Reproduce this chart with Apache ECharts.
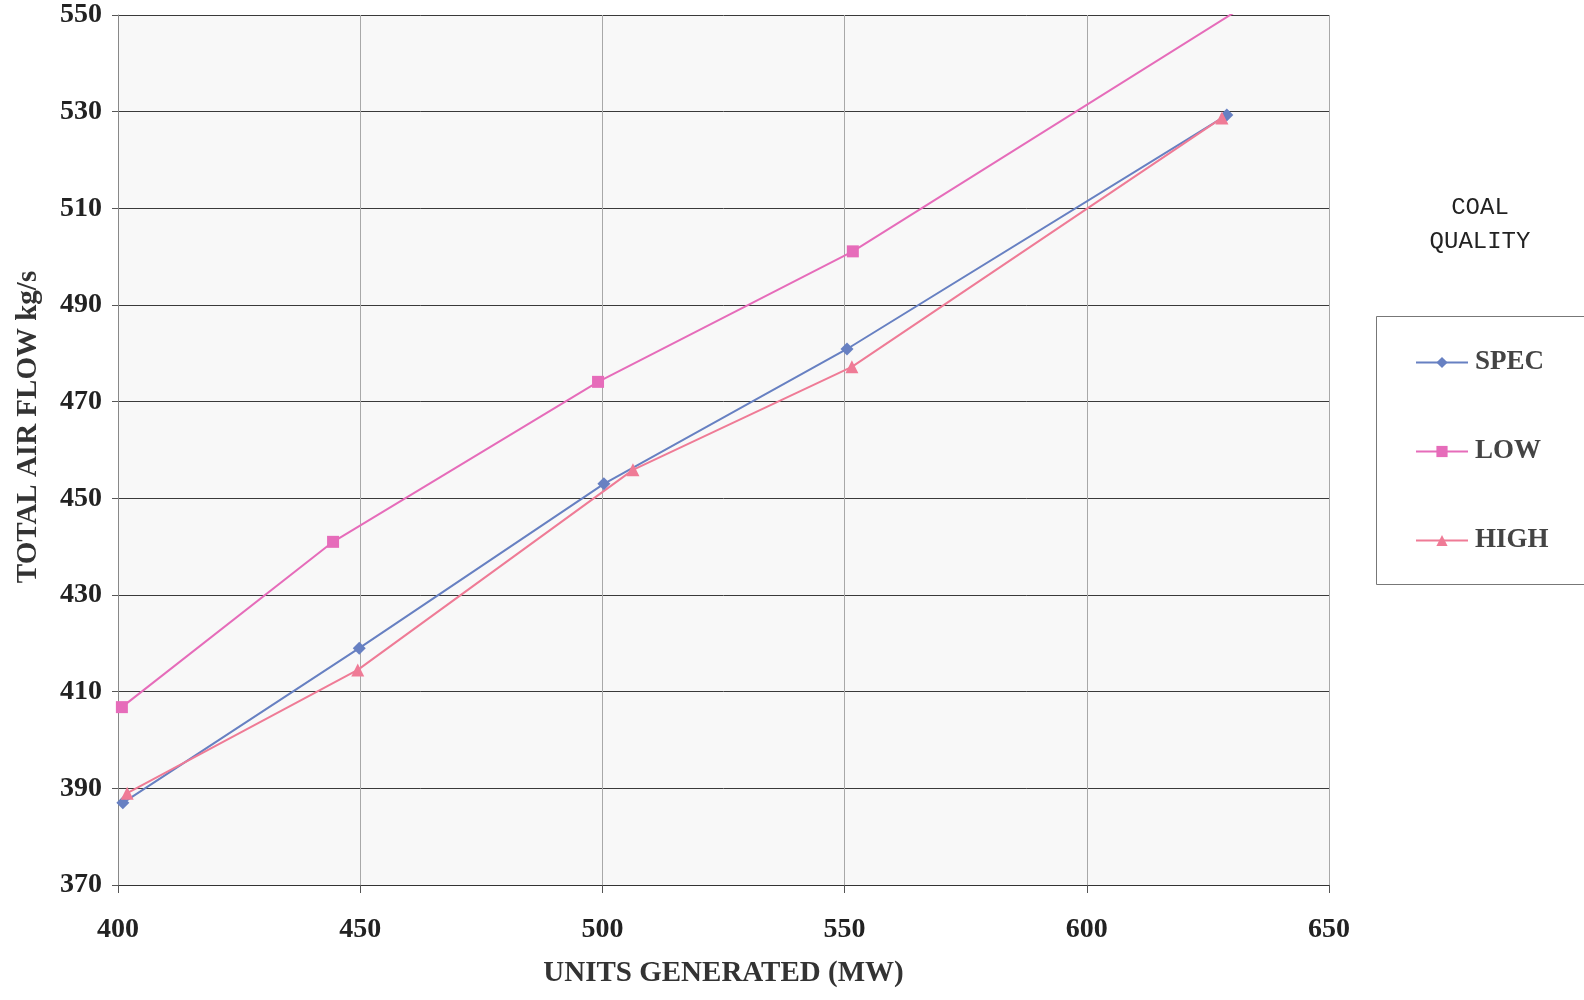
<!DOCTYPE html>
<html>
<head>
<meta charset="utf-8">
<script src="https://cdn.jsdelivr.net/npm/echarts@6/dist/echarts.min.js"></script>
<style>
  html, body { margin: 0; padding: 0; background: #ffffff; }
  #chart { width: 1584px; height: 1000px; }
</style>
</head>
<body>
<div id="chart"></div>
<script>
// Total air flow against unit output, for three coal qualities
const seriesNames = ['SPEC', 'LOW', 'HIGH'];

const specMW   = [401, 449.8, 500.3, 550.5, 628.9];
const specFlow = [387.0, 419.0, 453.0, 480.9, 529.3];

const lowMW    = [400.8, 444.4, 499.1, 551.7, 631.5];
const lowFlow  = [406.8, 441.0, 474.1, 501.1, 551.2];

const highMW   = [401.9, 449.5, 506.3, 551.5, 627.9];
const highFlow = [389.0, 414.5, 455.9, 477.2, 528.7];

const xTicks = [400, 450, 500, 550, 600, 650];
const yTicks = [370, 390, 410, 430, 450, 470, 490, 510, 530, 550];

const colors = ['#6780c2', '#e66cba', '#ef7b96'];
const symbols = ['diamond', 'rect', 'triangle'];

function pairs(xs, ys) { return xs.map((x, i) => [x, ys[i]]); }
const seriesData = [pairs(specMW, specFlow), pairs(lowMW, lowFlow), pairs(highMW, highFlow)];

const serif = '"Liberation Serif", "Times New Roman", serif';

const chart = echarts.init(document.getElementById('chart'), null, { renderer: 'canvas' });

chart.setOption({
  backgroundColor: '#ffffff',
  animation: false,
  grid: {
    left: 118, right: 255, top: 15, bottom: 115,
    show: true, backgroundColor: '#f8f8f8', borderWidth: 0
  },
  xAxis: {
    type: 'value',
    min: xTicks[0], max: xTicks[xTicks.length - 1], interval: 50,
    name: 'UNITS GENERATED (MW)',
    nameLocation: 'middle', nameGap: 74,
    nameTextStyle: { fontFamily: serif, fontWeight: 'bold', fontSize: 29, color: '#333' },
    axisLine: { show: true, lineStyle: { color: '#333', width: 1.2 } },
    axisTick: { show: true, length: 8, lineStyle: { color: '#555' } },
    axisLabel: { fontFamily: serif, fontWeight: 'bold', fontSize: 28, color: '#222', margin: 31 },
    splitLine: { show: true, lineStyle: { color: '#a8a8a8', width: 1 } }
  },
  yAxis: {
    type: 'value',
    min: yTicks[0], max: yTicks[yTicks.length - 1], interval: 20,
    name: 'TOTAL AIR FLOW kg/s',
    nameLocation: 'middle', nameGap: 75, nameRotate: 90,
    nameTextStyle: { fontFamily: serif, fontWeight: 'bold', fontSize: 29, color: '#333', padding: [0, 0, 0, 46] },
    axisLine: { show: true, lineStyle: { color: '#888', width: 1 } },
    axisTick: { show: true, length: 6, lineStyle: { color: '#555' } },
    axisLabel: { fontFamily: serif, fontWeight: 'bold', fontSize: 28, color: '#222', margin: 16 },
    splitLine: { show: true, lineStyle: { color: '#3a3a3a', width: 1 } }
  },
  legend: {
    orient: 'vertical',
    left: 1410, top: 344,
    itemWidth: 52, itemHeight: 14,
    itemGap: 62,
    textStyle: { fontFamily: serif, fontWeight: 'bold', fontSize: 27, color: '#444', padding: [0, 0, 0, 2] },
    data: seriesNames
  },
  graphic: [
    {
      type: 'rect', left: 1376, top: 316, z: -1,
      shape: { width: 230, height: 268 },
      style: { fill: '#ffffff', stroke: '#777', lineWidth: 1 }
    },
    {
      type: 'text', z: 10,
      style: {
        text: 'COAL\nQUALITY', x: 1480, y: 191, align: 'center',
        font: '24px "Liberation Mono", "Courier New", monospace', fill: '#222', lineHeight: 34
      }
    }
  ],
  series: seriesNames.map((name, i) => ({
    name: name,
    type: 'line',
    data: seriesData[i],
    symbol: symbols[i],
    symbolSize: i === 1 ? 12 : 13,
    clip: true,
    lineStyle: { color: colors[i], width: 2 },
    itemStyle: { color: colors[i] },
    emphasis: { disabled: true }
  }))
});
</script>
</body>
</html>
